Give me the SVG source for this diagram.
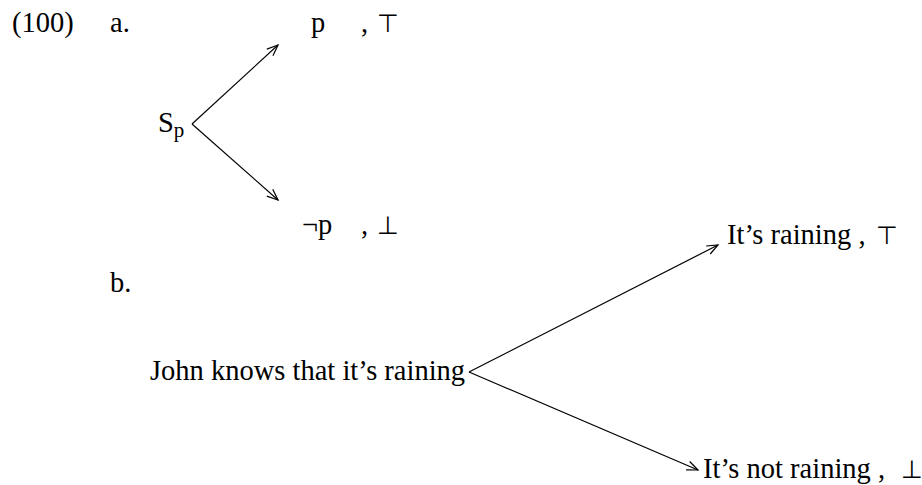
<svg xmlns="http://www.w3.org/2000/svg" width="922" height="485" viewBox="0 0 922 485">
<style>
text { font-family: "Liberation Serif", "DejaVu Serif", serif; font-size: 28.5px; fill: #000; }
.sub { font-size: 21px; }
.sym { font-family: "DejaVu Sans", sans-serif; font-size: 25px; }
.edge { stroke: #000; stroke-width: 1.2; fill: none; marker-end: url(#arr); }
</style>
<defs>
<marker id="arr" markerUnits="userSpaceOnUse" markerWidth="14" markerHeight="12" viewBox="-12 -6 14 12" refX="0" refY="0" orient="auto">
<path d="M-11,-4.5 L0,0 L-11,4.5" fill="none" stroke="#000" stroke-width="1.2"/>
</marker>
</defs>
<rect width="922" height="485" fill="#fff"/>
<g id="labels">
<text x="12" y="32">(100)</text>
<text x="110" y="32">a.</text>
<text x="110" y="292">b.</text>
</g>
<g id="connectors">
<line class="edge" x1="192" y1="124" x2="278" y2="45"/>
<line class="edge" x1="192" y1="124" x2="278" y2="200"/>
<line class="edge" x1="469" y1="372" x2="718" y2="245"/>
<line class="edge" x1="469" y1="372" x2="698" y2="470"/>
</g>
<g id="node-sp">
<text x="158" y="132">S<tspan class="sub" dy="5">p</tspan></text>
</g>
<g id="node-p">
<text x="311" y="32">p</text>
<text x="361" y="32">,</text>
<text class="sym" x="377" y="32">⊤</text>
</g>
<g id="node-notp">
<text x="302" y="234">¬p</text>
<text x="361" y="234">,</text>
<text class="sym" x="377" y="234">⊥</text>
</g>
<g id="node-john">
<text x="150" y="380">John knows that it’s raining</text>
</g>
<g id="node-raining">
<text x="727" y="244">It’s raining ,</text>
<text class="sym" x="876" y="244">⊤</text>
</g>
<g id="node-notraining">
<text x="703" y="478">It’s not raining ,</text>
<text class="sym" x="901" y="478">⊥</text>
</g>
</svg>
